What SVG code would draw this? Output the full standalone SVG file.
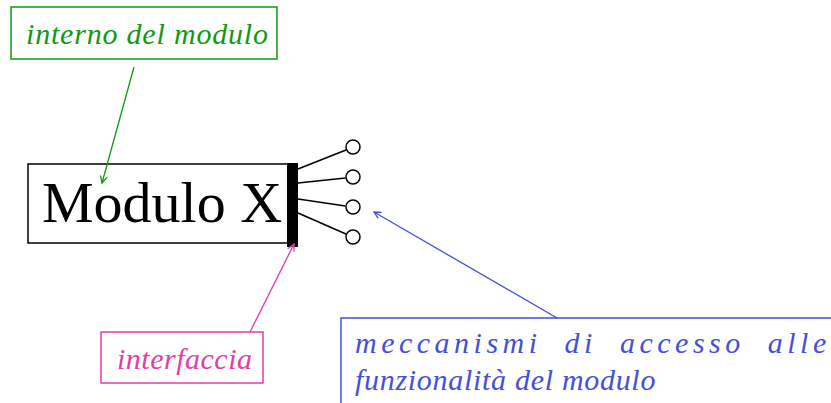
<svg xmlns="http://www.w3.org/2000/svg" width="831" height="403" viewBox="0 0 831 403">
<defs>
<style>
.box{fill:#fff;stroke-width:1.5}
.lbl{font-family:"Liberation Serif","Times New Roman",serif;font-style:italic;font-size:30px}
</style>
<marker id="ag" markerWidth="8" markerHeight="8" refX="7" refY="4" orient="auto" markerUnits="userSpaceOnUse"><path d="M0,0.5 L7,4 L0,7.5" fill="none" stroke="#119911" stroke-width="1.3"/></marker>
<marker id="ap" markerWidth="8" markerHeight="8" refX="7" refY="4" orient="auto" markerUnits="userSpaceOnUse"><path d="M0,0.5 L7,4 L0,7.5" fill="none" stroke="#e23ea6" stroke-width="1.3"/></marker>
<marker id="ab" markerWidth="8" markerHeight="8" refX="7" refY="4" orient="auto" markerUnits="userSpaceOnUse"><path d="M0,0.5 L7,4 L0,7.5" fill="none" stroke="#4450d8" stroke-width="1.3"/></marker>
</defs>
<rect width="831" height="403" fill="#fff"/>
<g id="modulo">
<rect class="box" x="28" y="164" width="262" height="79" stroke="#000"/>
<text x="42" y="222" font-family="Liberation Serif,Times New Roman,serif" font-size="58" fill="#000">Modulo X</text>
<rect x="287" y="163" width="11" height="84" fill="#000"/>
</g>
<g id="ports" fill="#fff" stroke="#000" stroke-width="1.5">
<line x1="298" y1="169" x2="346" y2="150"/>
<line x1="298" y1="183" x2="345.5" y2="178"/>
<line x1="298" y1="199" x2="345.5" y2="206"/>
<line x1="298" y1="213" x2="346" y2="234"/>
<circle cx="353" cy="147" r="7"/>
<circle cx="353" cy="177" r="7"/>
<circle cx="353" cy="207" r="7"/>
<circle cx="353" cy="237" r="7"/>
</g>
<g id="interno">
<rect class="box" x="11" y="7" width="266" height="52" stroke="#119911"/>
<text class="lbl" x="26" y="44" fill="#119911" letter-spacing="0.8">interno del modulo</text>
</g>
<g id="interfaccia">
<rect class="box" x="101" y="332" width="162" height="51" stroke="#e23ea6"/>
<text class="lbl" x="117" y="369" fill="#e23ea6" letter-spacing="0.5">interfaccia</text>
</g>
<g id="meccanismi">
<rect class="box" x="341" y="318" width="495" height="90" stroke="#4450d8"/>
<text class="lbl" x="355" y="353" fill="#4450d8" letter-spacing="4.5" word-spacing="11">meccanismi di accesso alle</text>
<text class="lbl" x="355" y="390" fill="#4450d8" letter-spacing="0.7">funzionalità del modulo</text>
</g>
<g id="connectors" fill="none" stroke-width="1.3">
<line x1="134" y1="67" x2="102" y2="183" stroke="#119911" marker-end="url(#ag)"/>
<line x1="250" y1="332" x2="294" y2="244" stroke="#e23ea6" marker-end="url(#ap)"/>
<line x1="557" y1="318" x2="374" y2="212" stroke="#4450d8" marker-end="url(#ab)"/>
</g>
</svg>
